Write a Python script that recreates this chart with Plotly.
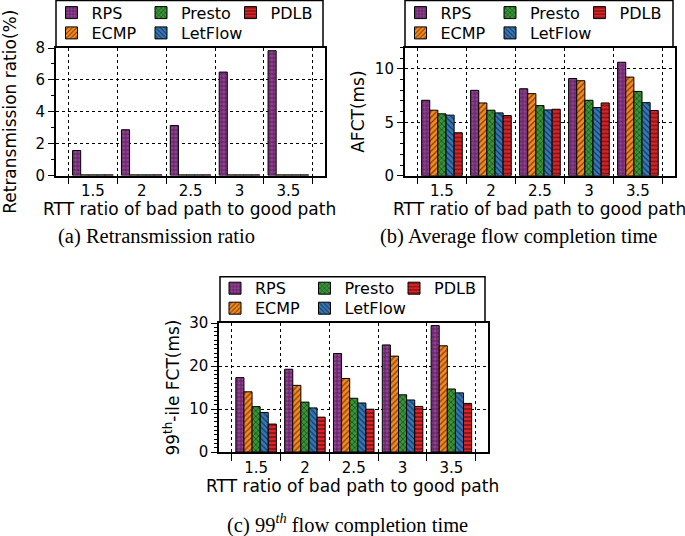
import plotly.graph_objects as go

# ---------------- data ----------------
categories = ["1.5", "2", "2.5", "3", "3.5"]
x_pos = [0, 1, 2, 3, 4]
series = ["RPS", "ECMP", "Presto", "LetFlow", "PDLB"]

retx_rps = [1.57, 2.87, 3.14, 6.49, 7.83]
retx_ecmp = [0.04, 0.04, 0.04, 0.04, 0.04]
retx_presto = [0.04, 0.04, 0.04, 0.04, 0.04]
retx_letflow = [0.04, 0.04, 0.04, 0.04, 0.04]
retx_pdlb = [0.04, 0.04, 0.04, 0.04, 0.04]

afct_rps = [7.06, 7.99, 8.14, 9.10, 10.62]
afct_ecmp = [6.13, 6.81, 7.68, 8.89, 9.23]
afct_presto = [5.79, 6.13, 6.56, 7.06, 7.89]
afct_letflow = [5.67, 5.88, 6.16, 6.38, 6.84]
afct_pdlb = [4.02, 5.63, 6.22, 6.81, 6.10]

fct99_rps = [17.3, 19.25, 22.9, 24.9, 29.4]
fct99_ecmp = [14.0, 15.5, 17.1, 22.3, 24.7]
fct99_presto = [10.55, 11.6, 12.5, 13.3, 14.65]
fct99_letflow = [9.2, 10.25, 11.4, 12.1, 13.75]
fct99_pdlb = [6.5, 8.1, 9.95, 10.6, 11.3]

x_title = "RTT ratio of bad path to good path"
y_titles = ["Retransmission ratio(%)", "AFCT(ms)", "99<sup>th</sup>-ile FCT(ms)"]
captions = ["(a) Retransmission ratio", "(b) Average flow completion time",
            "(c) 99<sup><i>th</i></sup> flow completion time"]

# ---------------- styles ----------------
colors = {"RPS": "#953f97", "ECMP": "#fb8a1e", "Presto": "#379637",
          "LetFlow": "#3679bb", "PDLB": "#dc2428"}
shapes_pat = {"RPS": "+", "ECMP": "/", "Presto": "x", "LetFlow": "\\", "PDLB": "-"}
legend_row = {"RPS": 0, "Presto": 0, "PDLB": 0, "ECMP": 1, "LetFlow": 1}
legend_rank = {"RPS": 1, "Presto": 2, "PDLB": 3, "ECMP": 1, "LetFlow": 2}
last_in_row = {"PDLB", "LetFlow"}

W, H = 685, 536
SANS = "DejaVu Sans"
SERIF = "Liberation Serif"

# pixel geometry of the three panels
xdoms_px = [(55.7, 325), (404.7, 674.7), (219, 488)]
ydoms_px = [(48, 175.5), (47.5, 175.7), (323, 452)]
legbox_px = [(56, 0.5, 323, 47), (405, 0.5, 673, 46.7), (220, 276.7, 485, 322.3)]
leg_item_left = [51.5, 400.5, 215]
leg_row_centers = [(12.7, 33), (12.7, 33), (288.3, 308.3)]
ytitle_standoff = [14, 6, 5]
xtitle_pos = [(189, 209), (539, 209), (353, 486)]
caption_pos = [(156, 236), (518, 236), (348, 523)]

fig = go.Figure()

panels = [
    ("x", "y", [retx_rps, retx_ecmp, retx_presto, retx_letflow, retx_pdlb]),
    ("x2", "y2", [afct_rps, afct_ecmp, afct_presto, afct_letflow, afct_pdlb]),
    ("x3", "y3", [fct99_rps, fct99_ecmp, fct99_presto, fct99_letflow, fct99_pdlb]),
]


def legname(panel, row):
    n = panel * 2 + row + 1
    return "legend" if n == 1 else "legend%d" % n


for p, (xa, ya, vals) in enumerate(panels):
    for name, v in zip(series, vals):
        extra = {"legendwidth": 80} if name in last_in_row else {}
        fig.add_trace(go.Bar(
            x=x_pos, y=v, name=name, xaxis=xa, yaxis=ya,
            legend=legname(p, legend_row[name]),
            legendrank=legend_rank[name],
            marker=dict(color=colors[name],
                        line=dict(color="black", width=1),
                        pattern=dict(shape=shapes_pat[name], fgcolor="black",
                                     bgcolor=colors[name], size=4, solidity=0.35)),
            **extra,
        ))


def px_dom_x(a, b):
    return [a / W, b / W]


def px_dom_y(top, bottom):
    return [1 - bottom / H, 1 - top / H]


yranges = [[0, 8], [0, 12], [0, 30]]
ydticks = [2, 5, 10]

axis_common = dict(showline=True, mirror=True, linecolor="black", linewidth=1.5,
                   tickfont=dict(family=SANS, size=15, color="black"),
                   zeroline=False)

layout = dict(width=W, height=H,
              margin=dict(l=0, r=0, t=0, b=0, autoexpand=False),
              paper_bgcolor="white", plot_bgcolor="white",
              barmode="group", bargap=0.17, bargroupgap=0, showlegend=True)

shapes = []
annotations = []
for i in range(3):
    sfx = "" if i == 0 else str(i + 1)
    layout["xaxis" + sfx] = dict(
        axis_common, domain=px_dom_x(*xdoms_px[i]), anchor="y" + sfx,
        range=[-0.76, 4.75],
        tickmode="array", tickvals=x_pos, ticktext=categories, ticks="",
        ticklabelstandoff=1,
        showgrid=False,
        minor=dict(tickmode="array", tickvals=[-0.5, 0.5, 1.5, 2.5, 3.5, 4.5],
                   ticks="outside", ticklen=7, tickcolor="black", tickwidth=1,
                   showgrid=True, gridcolor="black", griddash="dot", gridwidth=1),
    )
    layout["yaxis" + sfx] = dict(
        axis_common, domain=px_dom_y(*ydoms_px[i]), anchor="x" + sfx,
        range=yranges[i],
        dtick=ydticks[i], ticks="outside", ticklen=6, tickcolor="black",
        showgrid=True, gridcolor="black", griddash="dot", gridwidth=1,
        minor=dict(dtick=1, ticks="outside", ticklen=3, tickcolor="black",
                   showgrid=False),
        title=dict(text=y_titles[i], font=dict(family=SANS, size=17, color="black"),
                   standoff=ytitle_standoff[i]),
    )
    for r in range(2):
        layout[legname(i, r)] = dict(
            x=leg_item_left[i] / W, xanchor="left",
            y=1 - leg_row_centers[i][r] / H, yanchor="middle",
            orientation="h", entrywidth=44.5, entrywidthmode="pixels",
            borderwidth=0, bgcolor="rgba(0,0,0,0)",
            font=dict(family=SANS, size=16, color="black"),
            traceorder="normal",
        )
    x0, y0, x1, y1 = legbox_px[i]
    shapes.append(dict(type="rect", xref="paper", yref="paper",
                       x0=x0 / W, x1=x1 / W, y0=1 - y1 / H, y1=1 - y0 / H,
                       line=dict(color="black", width=1.5), layer="above"))
    tx, ty = xtitle_pos[i]
    annotations.append(dict(text=x_title, x=tx / W, y=1 - ty / H,
                            xref="paper", yref="paper", showarrow=False,
                            xanchor="center", yanchor="middle",
                            font=dict(family=SANS, size=17, color="black")))
    cx, cy = caption_pos[i]
    annotations.append(dict(text=captions[i], x=cx / W, y=1 - cy / H,
                            xref="paper", yref="paper", showarrow=False,
                            xanchor="center", yanchor="middle",
                            font=dict(family=SERIF, size=20.5, color="black")))
layout["shapes"] = shapes
layout["annotations"] = annotations

fig.update_layout(**layout)
fig.write_html("out.html", config={"displayModeBar": False},
               post_script="document.body.style.margin='0';")
